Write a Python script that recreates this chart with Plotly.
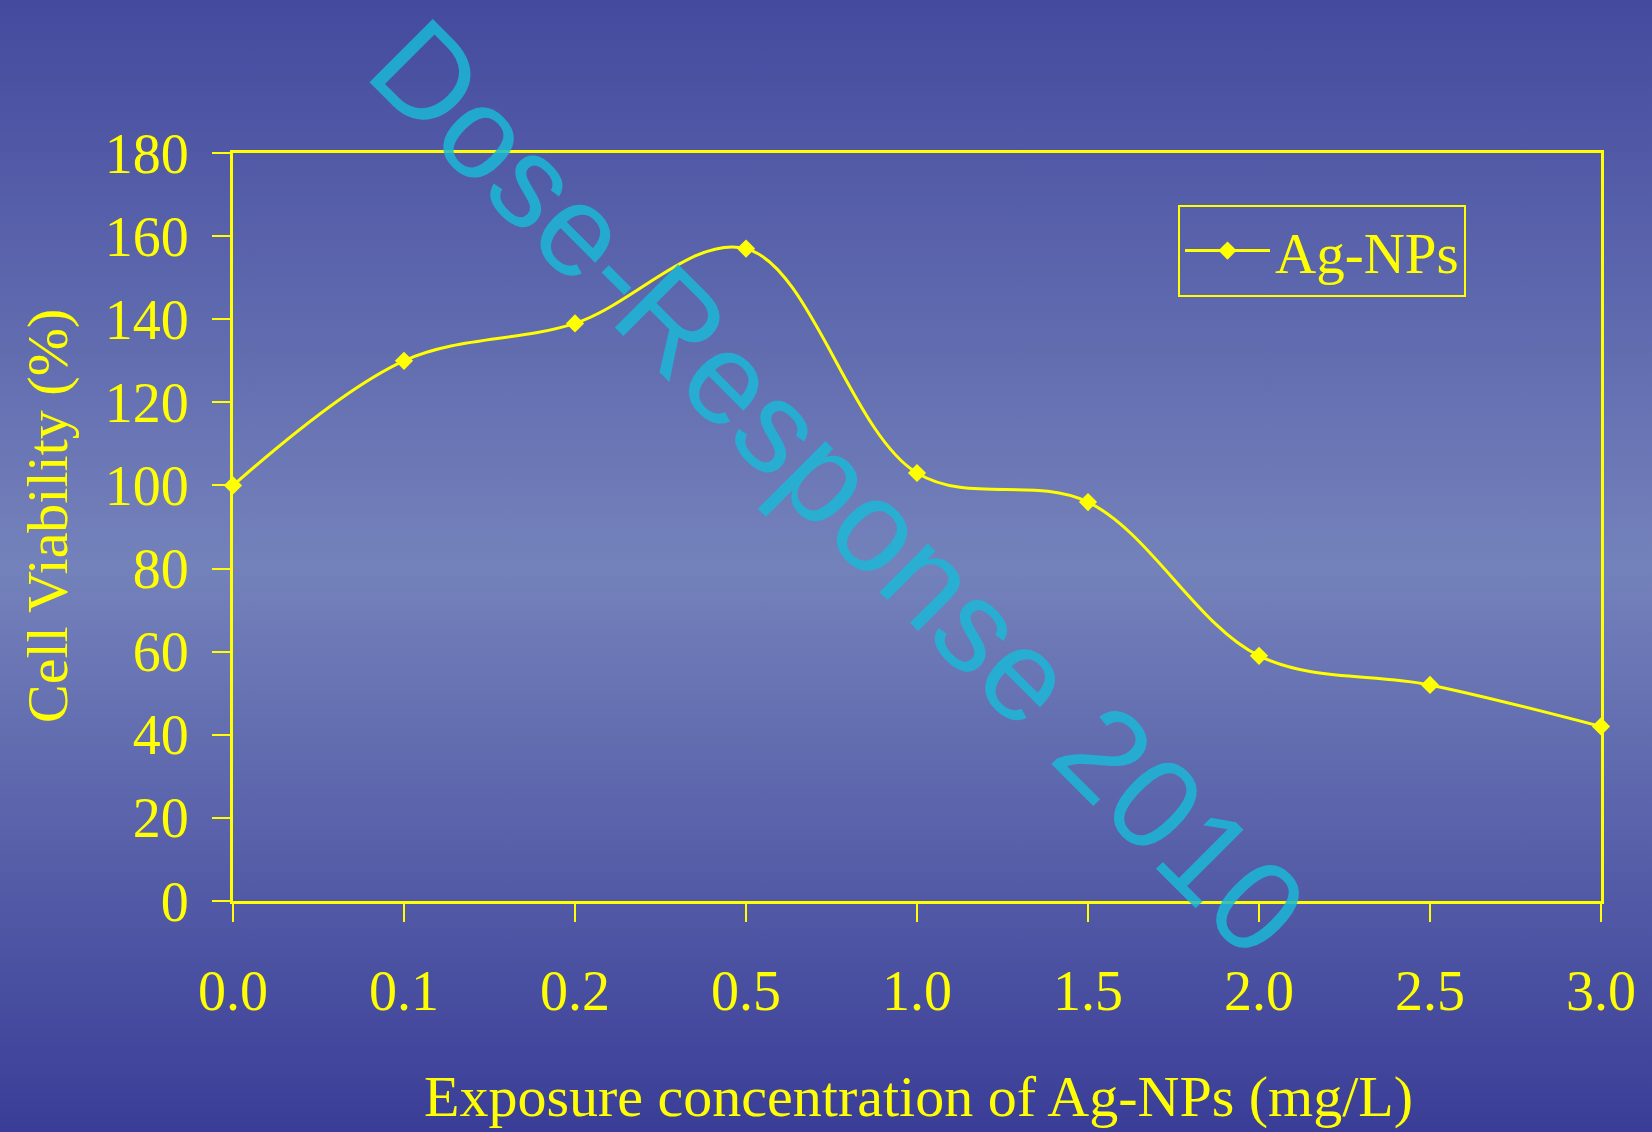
import base64
import plotly.graph_objects as go

# ---- data ----
concentrations = ["0.0", "0.1", "0.2", "0.5", "1.0", "1.5", "2.0", "2.5", "3.0"]
viability = [100, 130, 139, 157, 103, 96, 59, 52, 42]
series_name = "Ag-NPs"
y_ticks = [0, 20, 40, 60, 80, 100, 120, 140, 160, 180]

W, H = 1652, 1132
L, R, T, B = 233, 51, 153, 231
PW, PH = W - L - R, H - T - B

YEL = "#FFFF00"
SERIF = "Liberation Serif, Times New Roman, serif"

svg = f'''<svg xmlns="http://www.w3.org/2000/svg" width="{W}" height="{H}" preserveAspectRatio="none">
<defs><linearGradient id="g" x1="0" y1="0" x2="0" y2="1">
<stop offset="0" stop-color="#444A9E"/>
<stop offset="0.5" stop-color="#7482BB"/>
<stop offset="1" stop-color="#3A3D97"/>
</linearGradient></defs>
<rect x="0" y="0" width="{W}" height="{H}" fill="url(#g)"/></svg>'''
bg_src = "data:image/svg+xml;base64," + base64.b64encode(svg.encode()).decode()

fig = go.Figure()
fig.add_trace(go.Scatter(
    x=concentrations, y=viability, name=series_name,
    mode="lines+markers",
    line=dict(color=YEL, width=3, shape="spline", smoothing=1),
    marker=dict(symbol="diamond", size=14, color=YEL),
    cliponaxis=False,
))

fig.update_layout(
    width=W, height=H,
    margin=dict(l=L, r=R, t=T, b=B),
    paper_bgcolor="#5A64AA",
    plot_bgcolor="rgba(0,0,0,0)",
    font=dict(family=SERIF, color=YEL, size=56),
    showlegend=True,
    legend=dict(
        x=(1178 - L) / PW, y=1 - (205 - T) / PH, xanchor="left", yanchor="top",
        bgcolor="rgba(0,0,0,0)", bordercolor=YEL, borderwidth=2,
        font=dict(family=SERIF, size=57, color=YEL),
        itemwidth=85,
    ),
    images=[dict(
        source=bg_src, xref="paper", yref="paper",
        x=-L / PW, y=1 + T / PH, sizex=W / PW, sizey=H / PH,
        xanchor="left", yanchor="top", sizing="stretch", layer="below",
    )],
)

fig.update_xaxes(
    type="category", categoryorder="array", categoryarray=concentrations,
    range=[0, len(concentrations) - 1],
    showline=True, linecolor=YEL, linewidth=3, mirror=True,
    ticks="outside", ticklen=18, tickwidth=2, tickcolor=YEL,
    showgrid=False, zeroline=False,
    tickfont=dict(family=SERIF, size=56, color=YEL),
    ticklabelstandoff=21,
)
fig.update_yaxes(
    range=[0, 180], tickvals=y_ticks,
    showline=True, linecolor=YEL, linewidth=3, mirror=True,
    ticks="outside", ticklen=18, tickwidth=2, tickcolor=YEL,
    showgrid=False, zeroline=False,
    tickfont=dict(family=SERIF, size=56, color=YEL),
    ticklabelstandoff=12,
)

# axis titles
fig.add_annotation(
    text="Exposure concentration of Ag-NPs (mg/L)", xref="paper", yref="paper",
    x=(918 - L) / PW, y=1 - (1096 - T) / PH, xanchor="center", yanchor="middle",
    showarrow=False, font=dict(family=SERIF, size=58, color=YEL),
)
fig.add_annotation(
    text="Cell Viability (%)", xref="paper", yref="paper",
    x=(47 - L) / PW, y=1 - (516 - T) / PH, xanchor="center", yanchor="middle",
    textangle=-90, showarrow=False, font=dict(family=SERIF, size=58, color=YEL),
)

# watermark
fig.add_annotation(
    text="Dose-Response 2010", xref="paper", yref="paper",
    x=(838 - L) / PW, y=1 - (487 - T) / PH, xanchor="center", yanchor="middle",
    textangle=45, showarrow=False,
    font=dict(family="Liberation Sans, Arial, sans-serif", size=130, color="rgba(27,183,214,0.85)"),
)

fig.write_html("out.html")
